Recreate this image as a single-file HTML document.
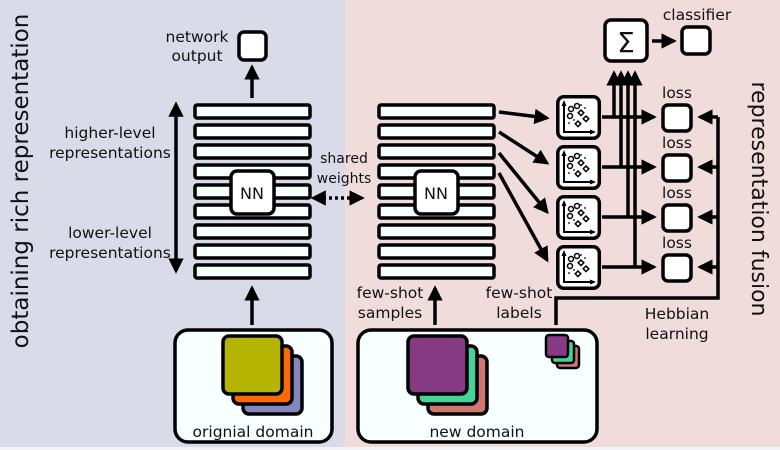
<!DOCTYPE html>
<html><head><meta charset="utf-8"><style>
html,body{margin:0;padding:0;width:780px;height:450px;overflow:hidden}
text{font-family:"DejaVu Sans","Liberation Sans",sans-serif;fill:#111}
</style></head><body>
<svg width="780" height="450" viewBox="0 0 780 450" xmlns="http://www.w3.org/2000/svg">
<defs>
<marker id="a" markerWidth="4.4" markerHeight="4.4" refX="3.6" refY="2.2" orient="auto" markerUnits="strokeWidth"><path d="M0,0L4.4,2.2L0,4.4z" fill="#000"/></marker>
<marker id="as" markerWidth="4.4" markerHeight="4.4" refX="0.8" refY="2.2" orient="auto-start-reverse" markerUnits="strokeWidth"><path d="M0,0L4.4,2.2L0,4.4z" fill="#000"/></marker>
<g id="plot">
<rect x="1.8" y="1.8" width="41.5" height="41.5" rx="6" fill="#fff" stroke="#000" stroke-width="3.5"/>
<path d="M8,7V37H38" fill="none" stroke="#000" stroke-width="2"/>
<path d="M5.5,11L8,5L10.5,11z M34,34.5L40,37L34,39.5z" fill="#000"/>
<g fill="none" stroke="#000" stroke-width="1.5"><circle cx="15" cy="14" r="2.5"/><circle cx="21" cy="11" r="2.5"/><circle cx="14" cy="21" r="2.5"/><path d="M25,15l2.8,2.8l-2.8,2.8l-2.8-2.8z M30,21l2.8,2.8l-2.8,2.8l-2.8-2.8z M22,26l2.8,2.8l-2.8,2.8l-2.8-2.8z"/></g>
<g fill="#000"><circle cx="25" cy="10" r=".9"/><circle cx="18" cy="25" r=".9"/><circle cx="13" cy="28" r=".9"/><circle cx="29" cy="13" r=".9"/></g>
</g>
</defs>
<rect x="0" y="0" width="345" height="450" fill="#d9dbe9"/>
<rect x="345" y="0" width="435" height="450" fill="#f1dcdc"/>
<rect x="0" y="447" width="780" height="3" fill="#f4f4f6"/>

<text x="28" y="181" font-size="23" text-anchor="middle" transform="rotate(-90 28 181)">obtaining rich representation</text>
<text x="752" y="199" font-size="22" text-anchor="middle" transform="rotate(90 752 199)">representation fusion</text>

<g fill="#f8ffff" stroke="#000" stroke-width="3.5">
<rect x="195" y="105" width="115" height="13" rx="2"/><rect x="195" y="125" width="115" height="13" rx="2"/><rect x="195" y="145" width="115" height="13" rx="2"/><rect x="195" y="165" width="115" height="13" rx="2"/><rect x="195" y="185" width="115" height="13" rx="2"/><rect x="195" y="205" width="115" height="13" rx="2"/><rect x="195" y="225" width="115" height="13" rx="2"/><rect x="195" y="245" width="115" height="13" rx="2"/><rect x="195" y="265" width="115" height="13" rx="2"/>
<rect x="379" y="105" width="115" height="13" rx="2"/><rect x="379" y="125" width="115" height="13" rx="2"/><rect x="379" y="145" width="115" height="13" rx="2"/><rect x="379" y="165" width="115" height="13" rx="2"/><rect x="379" y="185" width="115" height="13" rx="2"/><rect x="379" y="205" width="115" height="13" rx="2"/><rect x="379" y="225" width="115" height="13" rx="2"/><rect x="379" y="245" width="115" height="13" rx="2"/><rect x="379" y="265" width="115" height="13" rx="2"/>
</g>
<g fill="#fff" stroke="#000" stroke-width="3.5">
<rect x="231" y="171" width="43" height="43" rx="6"/>
<rect x="415" y="171" width="43" height="43" rx="6"/>
<rect x="239" y="32" width="27" height="28" rx="5"/>
<rect x="605" y="20" width="42" height="41" rx="6"/>
<rect x="682" y="27" width="28" height="27" rx="5"/>
<rect x="663" y="105" width="28" height="26" rx="5"/>
<rect x="663" y="155" width="28" height="26" rx="5"/>
<rect x="663" y="205" width="28" height="26" rx="5"/>
<rect x="663" y="255" width="28" height="26" rx="5"/>
</g>
<text x="252" y="199" font-size="16" text-anchor="middle">NN</text>
<text x="436" y="199" font-size="16" text-anchor="middle">NN</text>
<text x="626" y="52" font-size="28" text-anchor="middle">Σ</text>

<g font-size="15.5" text-anchor="middle">
<text x="197" y="42">network</text><text x="197" y="61">output</text>
<text x="110" y="138">higher-level</text><text x="110" y="158">representations</text>
<text x="110" y="238">lower-level</text><text x="110" y="258">representations</text>
<text x="697" y="20">classifier</text>
<text x="677" y="98">loss</text><text x="677" y="148">loss</text><text x="677" y="198">loss</text><text x="677" y="248">loss</text>
<text x="390" y="298">few-shot</text><text x="390" y="318">samples</text>
<text x="519" y="298">few-shot</text><text x="519" y="318">labels</text>
<text x="677" y="319">Hebbian</text><text x="677" y="339">learning</text>
</g>
<g font-size="14" text-anchor="middle"><text x="344" y="163">shared</text><text x="344" y="183">weights</text></g>

<g stroke="#000" stroke-width="3.5" fill="none">
<line x1="252" y1="98" x2="252" y2="67" marker-end="url(#a)"/>
<line x1="176" y1="114" x2="176" y2="271" marker-start="url(#as)" marker-end="url(#a)"/>
<line x1="252" y1="325" x2="252" y2="288" marker-end="url(#a)"/>
<line x1="435" y1="325" x2="435" y2="288" marker-end="url(#a)"/>
<line x1="323" y1="198" x2="362" y2="198" stroke-dasharray="3,3" marker-start="url(#as)" marker-end="url(#a)"/>
<line x1="499" y1="112" x2="547" y2="118" marker-end="url(#a)"/>
<line x1="499" y1="132" x2="547" y2="163" marker-end="url(#a)"/>
<line x1="499" y1="153" x2="547" y2="212" marker-end="url(#a)"/>
<line x1="499" y1="173" x2="547" y2="260" marker-end="url(#a)"/>
<line x1="652" y1="41" x2="674" y2="41" marker-end="url(#a)"/>
<line x1="602" y1="117" x2="654" y2="117" marker-end="url(#a)"/>
<line x1="602" y1="167" x2="654" y2="167" marker-end="url(#a)"/>
<line x1="602" y1="217" x2="654" y2="217" marker-end="url(#a)"/>
<line x1="602" y1="267" x2="654" y2="267" marker-end="url(#a)"/>
<line x1="614" y1="117" x2="614" y2="73" marker-end="url(#a)"/>
<line x1="621" y1="167" x2="621" y2="73" marker-end="url(#a)"/>
<line x1="628" y1="217" x2="628" y2="73" marker-end="url(#a)"/>
<line x1="635" y1="267" x2="635" y2="73" marker-end="url(#a)"/>
<polyline points="556,325 556,298 718,298 718,117"/>
<line x1="718" y1="117" x2="700" y2="117" marker-end="url(#a)"/>
<line x1="718" y1="167" x2="700" y2="167" marker-end="url(#a)"/>
<line x1="718" y1="217" x2="700" y2="217" marker-end="url(#a)"/>
<line x1="718" y1="267" x2="700" y2="267" marker-end="url(#a)"/>
</g>

<use href="#plot" x="556" y="95"/>
<use href="#plot" x="556" y="145"/>
<use href="#plot" x="556" y="195"/>
<use href="#plot" x="556" y="245"/>

<rect x="175" y="330" width="157" height="112" rx="13" fill="#f8ffff" stroke="#000" stroke-width="3.5"/>
<rect x="358" y="330" width="239" height="112" rx="13" fill="#f8ffff" stroke="#000" stroke-width="3.5"/>
<g stroke="#000" stroke-width="3.5">
<rect x="243" y="356" width="59" height="58" rx="6" fill="#8586bd"/>
<rect x="233" y="346" width="59" height="58" rx="6" fill="#ff6a00"/>
<rect x="223" y="336" width="59" height="58" rx="6" fill="#b5b400"/>
<rect x="428" y="356" width="59" height="58" rx="6" fill="#d07672"/>
<rect x="418" y="346" width="59" height="58" rx="6" fill="#46d39a"/>
<rect x="408" y="336" width="59" height="58" rx="6" fill="#863a84"/>
<rect x="557" y="346" width="22" height="22" rx="3" fill="#d07672" stroke-width="2.5"/>
<rect x="552" y="341" width="22" height="22" rx="3" fill="#46d39a" stroke-width="2.5"/>
<rect x="546" y="335" width="22" height="22" rx="3" fill="#863a84" stroke-width="2.5"/>
</g>
<text x="253" y="437" font-size="15.5" text-anchor="middle">orignial domain</text>
<text x="477" y="437" font-size="15.5" text-anchor="middle">new domain</text>
</svg>
</body></html>
